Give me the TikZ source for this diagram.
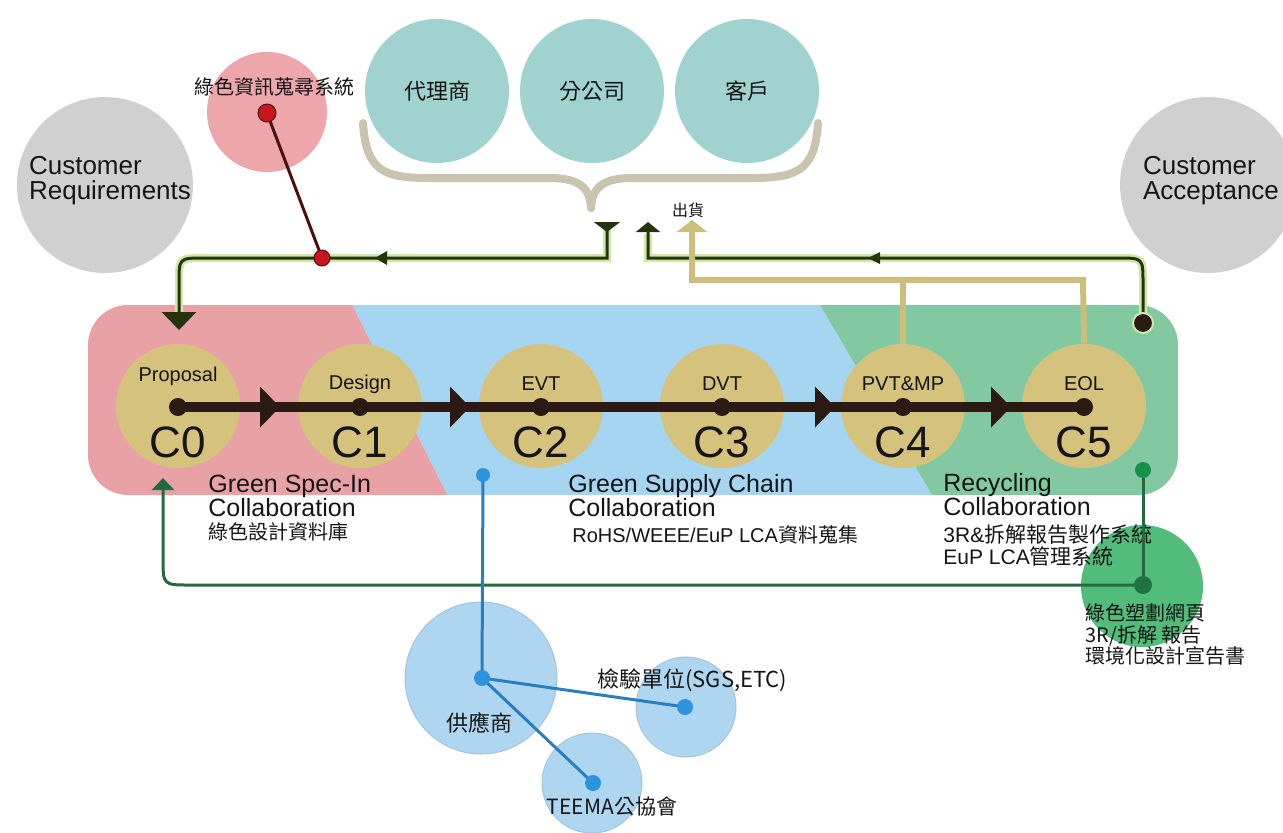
\documentclass[tikz,border=0pt]{standalone}
\usepackage{fontspec}
\setmainfont{Liberation Sans}
\newfontfamily\cjk{Noto Sans CJK TC}
\usetikzlibrary{arrows.meta}

\definecolor{pinkB}{HTML}{E8A2A6}
\definecolor{blueB}{HTML}{A6D5F2}
\definecolor{greenB}{HTML}{82C9A2}
\definecolor{goldC}{HTML}{D5C27C}
\definecolor{tealC}{HTML}{A0D3CF}
\definecolor{grayC}{HTML}{D0D0D0}
\definecolor{redC}{HTML}{EDA6AA}
\definecolor{redDot}{HTML}{C9161E}
\definecolor{redLine}{HTML}{4A1010}
\definecolor{lineDark}{HTML}{2B1914}
\definecolor{pathDark}{HTML}{26330F}
\definecolor{halo}{HTML}{CFE8A8}
\definecolor{tanL}{HTML}{CDBE7C}
\definecolor{braceC}{HTML}{CAC4AE}
\definecolor{greenDk}{HTML}{236B3E}
\definecolor{greenCirc}{HTML}{52BD7B}
\definecolor{greenDot}{HTML}{16904A}
\definecolor{blueCirc}{HTML}{AED6F0}
\definecolor{blueLine}{HTML}{2A7DBF}
\definecolor{blueDot}{HTML}{2E93DD}
\definecolor{txt}{HTML}{151515}

\begin{document}
\begin{tikzpicture}[x=0.5pt,y=-0.5pt,
  blob/.style={circle,inner sep=0pt,minimum size=#1pt},
  lab/.style={inner sep=0pt,text=txt},
  bigF/.style={font=\fontsize{13}{12.5}\selectfont},
  collF/.style={font=\fontsize{12.5}{12}\selectfont},
  stageF/.style={font=\fontsize{10}{10}\selectfont},
  cF/.style={font=\fontsize{22}{22}\selectfont},
  cjkF/.style={font=\cjk\fontsize{#1}{#1}\selectfont},
  haloline/.style={halo,line width=4pt},
  darkline/.style={pathDark,line width=1.5pt},
  tanline/.style={tanL,line width=3pt},
  mainline/.style={lineDark,line width=5pt},
  gline/.style={greenDk,line width=1.5pt},
  bline/.style={blueLine,line width=1.5pt},
]
\useasboundingbox (0,0) rectangle (1283,832);

% ---- outer circles
\node[blob=88,fill=grayC] (creq) at (105,185) {};
\node[lab,bigF,align=left] (creqT) at (110,181) {Customer\\Requirements};
\node[blob=88,fill=grayC] (cacc) at (1208,185) {};
\node[lab,bigF,align=left] (caccT) at (1211,181) {Customer\\Acceptance};

\node[blob=60,fill=redC] (redc) at (267,112) {};
\node[lab,cjkF=10] (redT) at (274,87) {綠色資訊蒐尋系統};

% ---- brace
\draw[braceC,line width=4pt,line cap=round]
  (363,123) .. controls (366,172) and (385,178) .. (430,178) -- (550,178)
  .. controls (582,178) and (590,190) .. (591,208);
\draw[braceC,line width=4pt,line cap=round]
  (818,123) .. controls (815,172) and (796,178) .. (750,178) -- (632,178)
  .. controls (600,178) and (592,190) .. (591,208);

\node[blob=72,fill=tealC] (agent) at (437,91) {};
\node[lab,cjkF=11] at (agent) {代理商};
\node[blob=72,fill=tealC] (branch) at (592,91) {};
\node[lab,cjkF=11] at (branch) {分公司};
\node[blob=72,fill=tealC] (client) at (747,91) {};
\node[lab,cjkF=11] at (client) {客戶};
\node[lab,cjkF=8] (ship) at (688,210) {出貨};

% ---- band
\begin{scope}
  \clip[rounded corners=20pt] (88,305) rectangle (1178,495);
  \fill[pinkB] (80,300) -- (350,300) -- (450,500) -- (80,500) -- cycle;
  \fill[blueB] (350,300) -- (817,300) -- (935,500) -- (450,500) -- cycle;
  \fill[greenB] (817,300) -- (1190,300) -- (1190,500) -- (935,500) -- cycle;
\end{scope}

% ---- recycling green circle (under the texts)
\node[blob=61,fill=greenCirc] (gcirc) at (1142,586) {};

% ---- gold stage circles
\foreach \i/\x in {0/178,1/360,2/541,3/722,4/903,5/1084}{
  \node[blob=62,fill=goldC] (c\i) at (\x,406) {};
  \coordinate (p\i) at (\x,407);
}

% ---- connectors: coordinates
\coordinate (s1) at (607,222);
\coordinate (s2) at (648,222);
\coordinate (s3) at (692,220);
\coordinate (c0in) at (179,330);
\coordinate (trd) at (1143,323);
\coordinate (gtop) at (1143,470);
\coordinate (gbot) at (1143,585);
\coordinate (garr) at (163,478);

% left shipping path
\draw[haloline] (s1) -- (607,258) -- (204,258) .. controls (179,258) .. (179,283) -- (179,318);
\draw[darkline,{Triangle[reversed,width=13pt,length=5pt]}-{Triangle[width=17pt,length=9pt]}]
  (s1) -- (607,258) -- (204,258) .. controls (179,258) .. (179,283) -- (c0in);
\fill[pathDark] (375,258) -- (387,251) -- (387,265) -- cycle;

% right acceptance path
\draw[haloline] (trd) -- (1143,283) .. controls (1143,258) .. (1118,258) -- (648,258) -- (648,234);
\draw[darkline,-{Triangle[width=12pt,length=5pt]}]
  (trd) -- (1143,283) .. controls (1143,258) .. (1118,258) -- (648,258) -- (s2);
\fill[pathDark] (868,258) -- (880,252) -- (880,264) -- cycle;

% tan shipping path
\draw[tanline] (c4.north) -- (903,280);
\draw[tanline,-{Triangle[width=15pt,length=6pt]}] (c5.north) -- (1083,280) -- (692,280) -- (s3);

% ---- main process line
\draw[mainline] (p0) -- (p5);
\foreach \x in {270,460,825,1001}{
  \fill[lineDark] (\x-10,386.5) -- (\x+10,407) -- (\x-10,427.5) -- cycle;
}
\foreach \i in {0,...,5}{
  \node[blob=9,fill=lineDark] (d\i) at (p\i) {};
}

% stage labels
\node[lab,stageF] at (178,376) {Proposal};
\node[lab,stageF] at (360,384) {Design};
\node[lab,stageF] at (541,384) {EVT};
\node[lab,stageF] at (722,384) {DVT};
\node[lab,stageF] at (903,384) {PVT\&MP};
\node[lab,stageF] at (1084,384) {EOL};
\foreach \i/\x in {0/178,1/360,2/541,3/722,4/903,5/1084}{
  \node[lab,cF] at (\x,442) {C\i};
}

% top-right dark dot
\node[blob=10,fill=lineDark,draw=halo,line width=1pt] (trdot) at (trd) {};

% ---- collaboration texts
\node[lab,collF,anchor=base west] at (208,492) {Green Spec-In};
\node[lab,collF,anchor=base west] at (208,516) {Collaboration};
\node[lab,cjkF=10,anchor=base west] at (208,539) {綠色設計資料庫};

\node[lab,collF,anchor=base west] at (568,492) {Green Supply Chain};
\node[lab,collF,anchor=base west] at (568,516) {Collaboration};
\node[lab,font=\fontsize{10}{10}\selectfont,anchor=base west] at (572,542) {RoHS/WEEE/EuP LCA{\cjk 資料蒐集}};

\node[lab,collF,anchor=base west] at (943,491) {Recycling};
\node[lab,collF,anchor=base west] at (943,515) {Collaboration};
\node[lab,font=\fontsize{10.5}{10.5}\selectfont,anchor=base west] at (943,542) {3R\&{\cjk 拆解報告製作系統}};
\node[lab,font=\fontsize{10.5}{10.5}\selectfont,anchor=base west] at (943,564) {EuP LCA{\cjk 管理系統}};

% ---- recycling loop back
\draw[gline] (gtop) -- (gbot);
\draw[gline,-{Triangle[width=11pt,length=6pt]}] (gbot) -- (190,585) .. controls (163,585) .. (163,558) -- (garr);
\node[blob=8,fill=greenDot] (gdot1) at (gtop) {};
\node[blob=9,fill=greenDk!80!greenDot] (gdot2) at (gbot) {};
\node[lab,cjkF=10,anchor=base west] at (1085,620) {綠色塑劃網頁};
\node[lab,cjkF=10,anchor=base west] at (1085,642) {3R/拆解 報告};
\node[lab,cjkF=10,anchor=base west] at (1085,663) {環境化設計宣告書};

% ---- supplier circles
\node[blob=76,fill=blueCirc,draw=blueCirc!80!gray,line width=0.5pt] (sup) at (481,678) {};
\node[blob=50,fill=blueCirc,draw=blueCirc!80!gray,line width=0.5pt] (insp) at (686,707) {};
\node[blob=50,fill=blueCirc,draw=blueCirc!80!gray,line width=0.5pt] (teema) at (592,783) {};
\coordinate (btop) at (483,475);
\draw[bline] (btop) -- (482,678);
\draw[bline] (482,678) -- (685,707);
\draw[bline] (482,678) -- (593,783);
\node[blob=7,fill=blueDot] (bdot0) at (btop) {};
\node[blob=8,fill=blueDot] (bdot1) at (482,678) {};
\node[blob=8,fill=blueDot] (bdot2) at (685,707) {};
\node[blob=8,fill=blueDot] (bdot3) at (593,783) {};
\node[lab,cjkF=11] at (479,723) {供應商};
\node[lab,cjkF=11,anchor=west] at (597,680) {檢驗單位(SGS,ETC)};
\node[lab,cjkF=10.5] at (612,806) {TEEMA公協會};

% ---- red info system link
\draw[redLine,line width=1.5pt] (267,113) -- (322,258);
\node[blob=9,fill=redDot,draw=redLine,line width=0.5pt] (rdot1) at (267,113) {};
\node[blob=8,fill=redDot,draw=redLine,line width=0.5pt] (rdot2) at (322,258) {};
\end{tikzpicture}
\end{document}
